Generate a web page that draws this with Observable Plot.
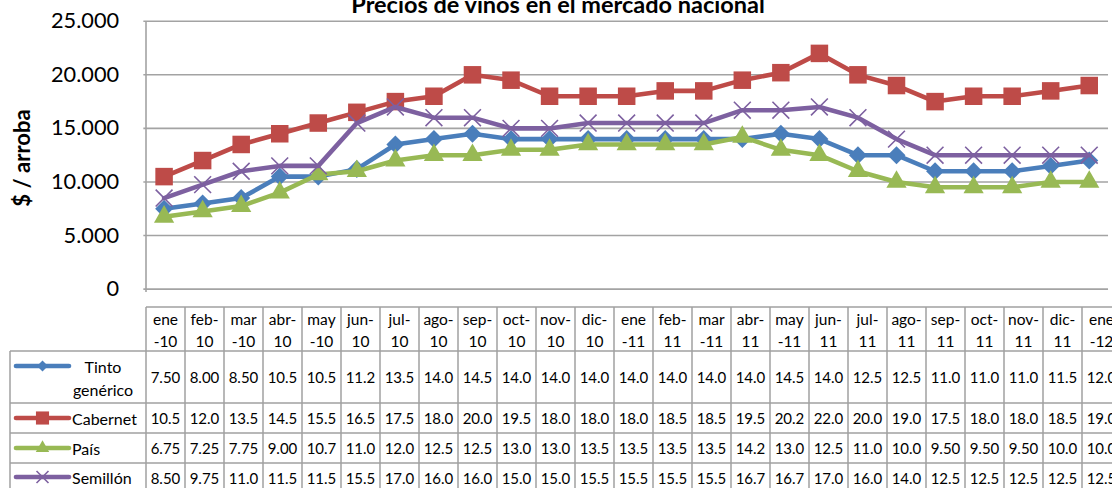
<!DOCTYPE html>
<html><head><meta charset="utf-8">
<script src="https://cdn.jsdelivr.net/npm/d3@7"></script>
<script src="https://cdn.jsdelivr.net/npm/@observablehq/plot@0.6"></script>
<style>
html,body{margin:0;padding:0;background:#fff;}
body{width:1112px;height:488px;overflow:hidden;position:relative;font-family:Lato,"Open Sans",sans-serif;}
#title{position:absolute;left:0;width:1116px;text-align:center;top:-8px;font-weight:bold;font-size:23.5px;line-height:24px;color:#000;white-space:nowrap;}
#ylabel{position:absolute;left:21px;top:158px;transform:translate(-50%,-50%) rotate(-90deg);font-weight:bold;font-size:22px;white-space:nowrap;color:#000;}
#chart{position:absolute;left:0;top:0;}
#overlay{position:absolute;left:0;top:0;}
</style></head><body>
<div id="chart"></div>
<div id="title"></div>
<div id="ylabel"></div>
<script>
const title = "Precios de vinos en el mercado nacional";
const yLabel = "$ / arroba";
const months = ["ene-10","feb-10","mar-10","abr-10","may-10","jun-10","jul-10","ago-10","sep-10","oct-10","nov-10","dic-10","ene-11","feb-11","mar-11","abr-11","may-11","jun-11","jul-11","ago-11","sep-11","oct-11","nov-11","dic-11","ene-12"];
const seriesNames = ["Tinto genérico","Cabernet","País","Semillón"];
// values in thousands of $ per arroba (as shown in the data table)
const tinto    = [7.50,8.00,8.50,10.5,10.5,11.2,13.5,14.0,14.5,14.0,14.0,14.0,14.0,14.0,14.0,14.0,14.5,14.0,12.5,12.5,11.0,11.0,11.0,11.5,12.0];
const cabernet = [10.5,12.0,13.5,14.5,15.5,16.5,17.5,18.0,20.0,19.5,18.0,18.0,18.0,18.5,18.5,19.5,20.2,22.0,20.0,19.0,17.5,18.0,18.0,18.5,19.0];
const pais     = [6.75,7.25,7.75,9.00,10.7,11.0,12.0,12.5,12.5,13.0,13.0,13.5,13.5,13.5,13.5,14.2,13.0,12.5,11.0,10.0,9.50,9.50,9.50,10.0,10.0];
const semillon = [8.50,9.75,11.0,11.5,11.5,15.5,17.0,16.0,16.0,15.0,15.0,15.5,15.5,15.5,15.5,16.7,16.7,17.0,16.0,14.0,12.5,12.5,12.5,12.5,12.5];
const yTicks = [0,5000,10000,15000,20000,25000];

const seriesValues = [tinto, cabernet, pais, semillon];
const styles = [
  {color:"#4a7ebb", symbol:"diamond2", r:8.2, lr:5.0, filled:true},
  {color:"#be4b48", symbol:"square",   r:10,  lr:7.4, filled:true},
  {color:"#98b954", symbol:"triangle", r:7.6, lr:5.0, filled:true},
  {color:"#7d60a0", symbol:"times",    r:7.8, lr:5.5, filled:false}
];

document.getElementById("title").textContent = title;
document.getElementById("ylabel").textContent = yLabel;

const fmtY = d => d === 0 ? "0" : d3.format(",")(d).replace(/,/g, ".");
const gridColor = "#a3a3a3";

const marks = [
  Plot.gridY(yTicks, {stroke: gridColor, strokeOpacity: 1, strokeWidth: 1.6}),
  Plot.axisY(yTicks, {tickSize: 0, tickPadding: 25, tickFormat: fmtY, fontSize: 22, label: null, fill: "#000"})
];
seriesNames.forEach((name, k) => {
  const rows = seriesValues[k].map((v, i) => ({month: months[i], value: v * 1000, serie: name}));
  const s = styles[k];
  marks.push(Plot.line(rows, {x: "month", y: "value", stroke: s.color, strokeWidth: 4.6, strokeLinejoin: "round", strokeLinecap: "round"}));
  marks.push(Plot.dot(rows, {
    x: "month", y: "value", symbol: s.symbol, r: s.r,
    fill: s.filled ? s.color : "none",
    stroke: s.filled ? "none" : s.color,
    strokeWidth: s.filled ? 0 : 1.6
  }));
});

const chart = Plot.plot({
  width: 1125, height: 310,
  marginLeft: 145, marginRight: 4, marginTop: 21, marginBottom: 18,
  x: {type: "band", domain: months, padding: 0, axis: null},
  y: {domain: [0, 25000], axis: null},
  style: {fontFamily: "Lato, 'Open Sans', sans-serif", background: "transparent", overflow: "visible"},
  marks
});
document.getElementById("chart").appendChild(chart);

// ---- data table (positions derived from the chart's x scale) ----
const xs = chart.scale("x");
const ys = chart.scale("y");
const bw = xs.bandwidth;
const x0 = xs.apply(months[0]);
const xEnd = xs.apply(months[months.length - 1]) + bw;
const rowEdges = [307, 351, 403, 433, 463, 493];
const legendLeft = 10;

const svg = d3.select("body").append("svg").attr("id", "overlay")
  .attr("width", 1112).attr("height", 488)
  .style("font-family", "Lato, 'Open Sans', sans-serif");

// left axis line of the plot
svg.append("line").attr("x1", x0).attr("x2", x0).attr("y1", ys.apply(25000)).attr("y2", ys.apply(0))
  .attr("stroke", gridColor).attr("stroke-width", 1.6);

const tcol = "#a0a0a0";
const tw = 1.5;
svg.append("line").attr("x1", x0).attr("x2", xEnd).attr("y1", rowEdges[0]).attr("y2", rowEdges[0]).attr("stroke", tcol).attr("stroke-width", tw);
rowEdges.slice(1).forEach(y => svg.append("line").attr("x1", legendLeft).attr("x2", xEnd).attr("y1", y).attr("y2", y).attr("stroke", tcol).attr("stroke-width", tw));
for (let i = 0; i <= months.length; i++) {
  const x = x0 + i * bw;
  svg.append("line").attr("x1", x).attr("x2", x).attr("y1", rowEdges[0]).attr("y2", rowEdges[5]).attr("stroke", tcol).attr("stroke-width", tw);
}
svg.append("line").attr("x1", legendLeft).attr("x2", legendLeft).attr("y1", rowEdges[1]).attr("y2", rowEdges[5]).attr("stroke", tcol).attr("stroke-width", tw);

// header labels (two lines)
months.forEach((m, i) => {
  const [mon, yy] = m.split("-");
  const lines = ["ene", "mar", "may"].includes(mon) ? [mon, "-" + yy] : [mon + "-", yy];
  const cx = xs.apply(m) + bw / 2;
  svg.append("text").attr("x", cx).attr("y", 319).attr("text-anchor", "middle").attr("dominant-baseline", "central").attr("font-size", 15.5).text(lines[0]);
  svg.append("text").attr("x", cx).attr("y", 341).attr("text-anchor", "middle").attr("dominant-baseline", "central").attr("font-size", 15.5).text(lines[1]);
});

// values
const fmtV = d3.format(".3r");
seriesValues.forEach((vals, k) => {
  const cy = (rowEdges[k + 1] + rowEdges[k + 2]) / 2;
  vals.forEach((v, i) => {
    svg.append("text").attr("x", xs.apply(months[i]) + bw / 2).attr("y", cy)
      .attr("text-anchor", "middle").attr("dominant-baseline", "central").attr("font-size", 15).text(fmtV(v));
  });
});

// legend keys
const symMap = {diamond2: d3.symbolDiamond2, square: d3.symbolSquare, triangle: d3.symbolTriangle, times: d3.symbolTimes};
const legendY = [366, 418, 448, 477];
seriesNames.forEach((name, k) => {
  const s = styles[k];
  const ly = legendY[k];
  svg.append("line").attr("x1", 16).attr("x2", 69).attr("y1", ly).attr("y2", ly)
    .attr("stroke", s.color).attr("stroke-width", 4.6).attr("stroke-linecap", "round");
  const r = s.lr;
  svg.append("path").attr("transform", `translate(42.5,${ly})`)
    .attr("d", d3.symbol(symMap[s.symbol], Math.PI * r * r)())
    .attr("fill", s.filled ? s.color : "none").attr("stroke", s.filled ? "none" : s.color).attr("stroke-width", 1.6);
  if (k === 0) {
    const parts = name.split(" ");
    svg.append("text").attr("x", 103).attr("y", 366).attr("text-anchor", "middle").attr("dominant-baseline", "central").attr("font-size", 16).text(parts[0]);
    svg.append("text").attr("x", 103).attr("y", 389).attr("text-anchor", "middle").attr("dominant-baseline", "central").attr("font-size", 16).text(parts[1]);
  } else {
    svg.append("text").attr("x", 72).attr("y", ly).attr("dominant-baseline", "central").attr("font-size", 16).text(name);
  }
});
</script>
</body></html>
